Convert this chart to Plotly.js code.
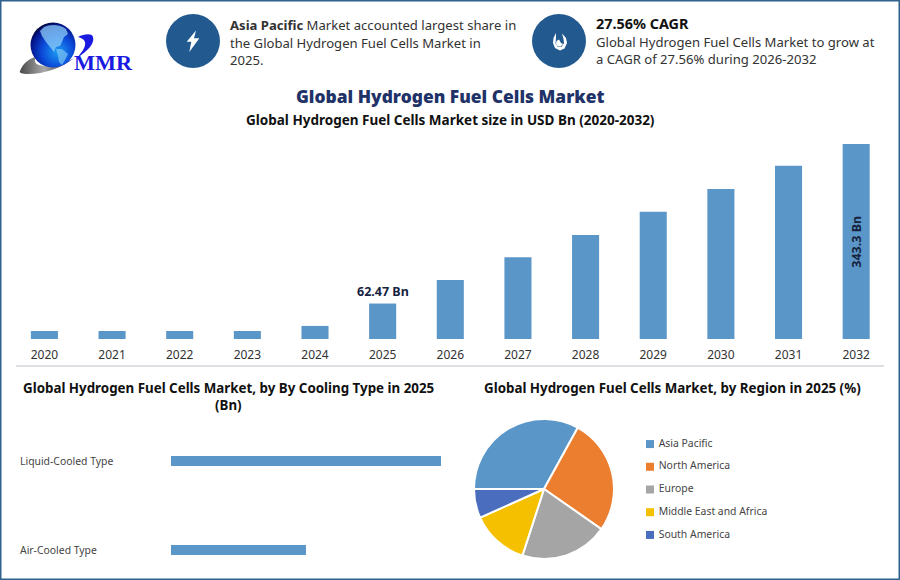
<!DOCTYPE html>
<html><head><meta charset="utf-8">
<script src="https://cdn.plot.ly/plotly-3.0.1.min.js"></script>
<style>html,body{margin:0;padding:0;background:#fff}#c{width:900px;height:580px}</style></head>
<body><div id="c"></div>
<script>
const years=['2020','2021','2022','2023','2024','2025','2026','2027','2028','2029','2030','2031','2032'];
const sizeBn=[14,14,14,14,23,62.47,104,144,183,224,264,305,343.3];
const coolingTypes=['Air-Cooled Type','Liquid-Cooled Type'];
const coolingBn=[20.82,41.65];
const regions=['Asia Pacific','North America','Europe','Middle East and Africa','South America'];
const regionShare=[33,26.7,20.3,13.3,6.7];
const regionColors=['#5B96C8','#EC7E30','#A5A5A5','#F5C000','#4A6DBE'];
const barColor='#5B96C8';
const F='"Noto Sans", sans-serif';
const X=p=>p/900, Y=p=>1-p/580;
const pts=a=>'M'+a.map(q=>X(q[0])+' '+Y(q[1])).join(' L')+' Z';
function txt(x,y,text,size,color,anchor,extra){
  return Object.assign({xref:'paper',yref:'paper',x:X(x),y:Y(y),text,showarrow:false,xanchor:anchor||'left',yanchor:'middle',
    font:{family:F,size,color},borderpad:0,borderwidth:0},extra||{});
}
const circle=(cx,cy,r,fill)=>({type:'circle',xref:'paper',yref:'paper',x0:X(cx-r),x1:X(cx+r),y0:Y(cy+r),y1:Y(cy-r),fillcolor:fill,line:{width:0},layer:'below'});
const logo='<svg xmlns="http://www.w3.org/2000/svg" width="130" height="70" viewBox="15 15 130 70">'+
 '<defs><radialGradient id="g" cx="0.6" cy="0.65" r="0.7"><stop offset="0" stop-color="#1c9cf2"/><stop offset="0.5" stop-color="#0b49d8"/><stop offset="0.85" stop-color="#04148a"/><stop offset="1" stop-color="#020520"/></radialGradient>'+
 '<linearGradient id="s" x1="0" x2="1"><stop offset="0" stop-color="#4a4a4a"/><stop offset="0.45" stop-color="#aaa"/><stop offset="0.7" stop-color="#666"/><stop offset="1" stop-color="#1a1ae0"/></linearGradient></defs>'+
 '<path d="M20 71 C23 63 30 58 36 57 C33 62 36 66 46 66 C56 66 66 63 74 58 C62 68 44 74 28 74 C22 74 19 73 20 71Z" fill="url(#s)"/>'+
 '<circle cx="53" cy="45" r="22.5" fill="url(#g)"/>'+
 '<path d="M44 27 C50 24 60 24 66 29 L68 34 L64 37 L62 42 L60 46 L56 47 L54 52 L50 47 L46 42 L42 36 L40 31Z" fill="#8ccdf7" opacity="0.75"/>'+
 '<path d="M56 49 L62 49 L68 54 L65 60 L62 65 L59 62 L58 56Z" fill="#7cc4f5" opacity="0.7"/>'+
 '<path d="M78 37 C84 34 92 33 93 37 C95 43 88 51 77 58 C83 51 86 46 85 42 C84 39 81 38 78 37Z" fill="#1a1ae0"/>'+
 '<text x="74" y="70" font-family="Liberation Serif" font-weight="bold" font-size="21" fill="#1a1ae0" textLength="58" lengthAdjust="spacingAndGlyphs">MMR</text></svg>';
const traces=[
 {type:'bar',x:years,y:sizeBn,xaxis:'x',yaxis:'y',marker:{color:barColor},width:0.4,hoverinfo:'x+y'},
 {type:'bar',orientation:'h',y:coolingTypes,x:coolingBn,xaxis:'x2',yaxis:'y2',marker:{color:barColor},width:0.112,hoverinfo:'y+x'},
 {type:'pie',labels:regions,values:regionShare,sort:false,direction:'clockwise',rotation:-90,textinfo:'none',
  marker:{colors:regionColors,line:{color:'#fff',width:2}},domain:{x:[X(474),X(614)],y:[Y(559),Y(419)]},showlegend:false},
 {type:'scatter',mode:'markers+text',x:regions.map(()=>0),y:regions,xaxis:'x3',yaxis:'y3',text:regions.map(r=>'\u00a0'+r),textposition:'middle right',
  textfont:{family:F,size:10.4,color:'#444'},marker:{symbol:'square',size:8,color:regionColors},cliponaxis:false,hoverinfo:'text'}
];
const annotations=[
 txt(230,25,'<b>Asia Pacific</b> Market accounted largest share in',13.1,'#333'),
 txt(230,43,'the Global Hydrogen Fuel Cells Market in',13.1,'#333'),
 txt(230,60,'2025.',13.1,'#333'),
 txt(596,23,'<b>27.56% CAGR</b>',14.4,'#111'),
 txt(596,42,'Global Hydrogen Fuel Cells Market to grow at',13.1,'#333'),
 txt(596,59,'a CAGR of 27.56% during 2026-2032',13.1,'#333'),
 txt(450,96,'Global Hydrogen Fuel Cells Market',17.4,'#1F3368','center'),
 txt(450,120,'<b>Global Hydrogen Fuel Cells Market size in USD Bn (2020-2032)</b>',13.5,'#111','center'),
 txt(229,388,'<b>Global Hydrogen Fuel Cells Market, by By Cooling Type in 2025</b>',13.35,'#111','center'),
 txt(229,405,'<b>(Bn)</b>',13.35,'#111','center'),
 txt(672,388,'<b>Global Hydrogen Fuel Cells Market, by Region in 2025 (%)</b>',13.35,'#111','center'),
 {xref:'x',yref:'y',x:years.indexOf('2025'),y:sizeBn[5],text:'<b>62.47 Bn</b>',showarrow:false,yanchor:'bottom',yshift:2,font:{family:F,size:12.5,color:'#16233F'}},
 {xref:'x',yref:'y',x:years.indexOf('2032'),y:sizeBn[12]/2,text:'<b>343.3 Bn</b>',showarrow:false,textangle:-90,font:{family:F,size:12.5,color:'#16233F'}}
];
annotations[6].font.weight=900;
coolingTypes.forEach((c,i)=>annotations.push({xref:'paper',yref:'y2',x:X(18),y:i,text:c,showarrow:false,xanchor:'left',font:{family:F,size:10.4,color:'#444'}}));
const shapes=[
 {type:'rect',xref:'paper',yref:'paper',x0:X(0.75),x1:X(899.25),y0:Y(579.25),y1:Y(0.75),line:{color:'#2F6291',width:1.5},layer:'above'},
 {type:'line',xref:'paper',yref:'paper',x0:X(16),x1:X(884),y0:Y(366),y1:Y(366),line:{color:'#BCC1C7',width:1}},
 circle(193,41,27,'#225A8F'),circle(559,41,27,'#225A8F'),
 {type:'path',xref:'paper',yref:'paper',path:pts([[196,30.5],[186.7,41.7],[191.3,41.7],[189.3,52],[199.3,38.3],[194,38.3]]),fillcolor:'#fff',line:{width:0}},
 {type:'path',xref:'paper',yref:'paper',path:pts([[556,33],[553.5,38],[553,43],[555,48],[560,50.5],[564.5,48.5],[567,43],[566,38],[562,33.5],[563.5,39],[564,43],[561.5,47],[558,47],[555.5,43.5],[556,38]]),fillcolor:'#fff',line:{width:0}},
 {type:'path',xref:'paper',yref:'paper',path:pts([[556.5,41],[559,39.5],[561,43],[563,44],[561,46.5],[558,46.5],[556,44]]),fillcolor:'#fff',line:{width:0}}
];
const layout={width:900,height:580,margin:{l:0,r:0,t:0,b:0},paper_bgcolor:'#fff',plot_bgcolor:'rgba(0,0,0,0)',showlegend:false,bargap:0.6,
 font:{family:F},
 xaxis:{domain:[X(10.6),X(890)],type:'category',categoryorder:'array',categoryarray:years,range:[-0.5,12.5],autorange:false,tickmode:'array',tickvals:years,ticktext:years,ticklabelstandoff:7,anchor:'y',tickfont:{family:F,size:12,color:'#333'},ticks:'',showline:false,showgrid:false,zeroline:false,fixedrange:true},
 yaxis:{domain:[Y(339),Y(144)],range:[0,343.3],visible:false,fixedrange:true},
 xaxis2:{domain:[X(171),X(441)],range:[0,41.65],anchor:'y2',visible:false,fixedrange:true},
 yaxis2:{domain:[Y(576),Y(430)],type:'category',range:[-0.292,1.348],anchor:'x2',visible:false,fixedrange:true},
 xaxis3:{domain:[X(650),X(800)],range:[0,150],anchor:'y3',visible:false,fixedrange:true},
 yaxis3:{domain:[Y(546.3),Y(432.7)],type:'category',autorange:false,range:[4.5,-0.5],anchor:'x3',visible:false,fixedrange:true},
 annotations,shapes,
 images:[{source:'data:image/svg+xml;utf8,'+encodeURIComponent(logo),xref:'paper',yref:'paper',x:X(15),y:Y(15),sizex:X(130),sizey:70/580,xanchor:'left',yanchor:'top',sizing:'stretch',layer:'above'}]
};
Plotly.newPlot('c',traces,layout,{displayModeBar:false,staticPlot:true});
</script></body></html>
